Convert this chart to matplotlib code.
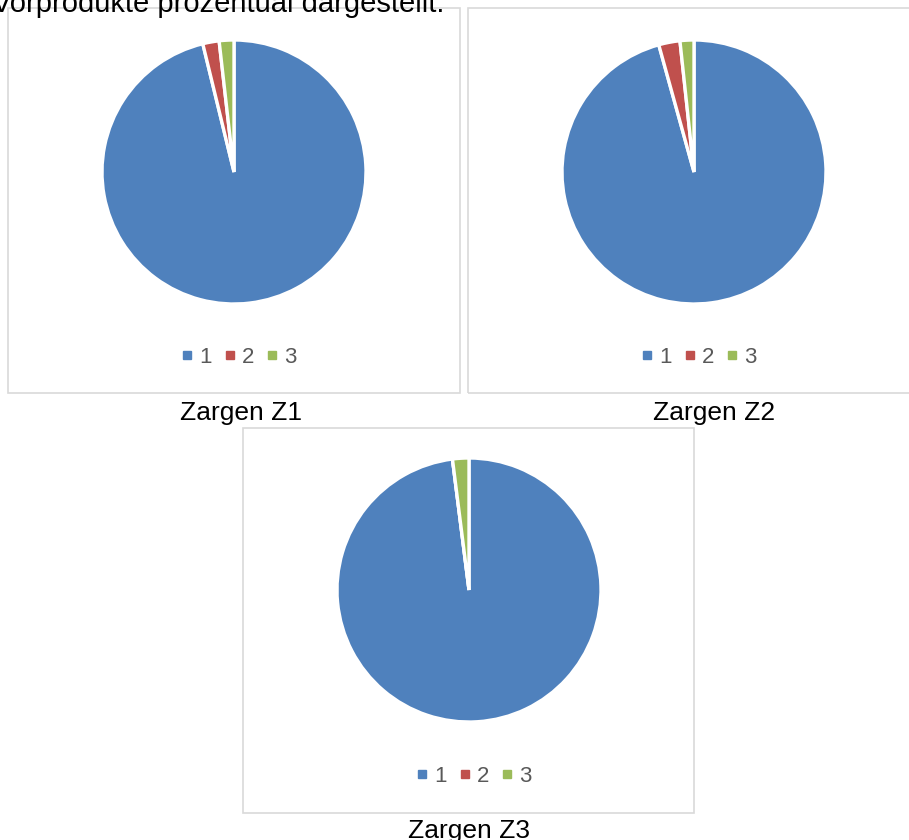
import matplotlib
matplotlib.use("Agg")
import matplotlib.pyplot as plt
from matplotlib.patches import Rectangle
from matplotlib.lines import Line2D

plt.rcParams["font.family"] = ["Liberation Sans", "DejaVu Sans"]

W, H = 909, 840

# share of each part (percent)
categories = ["1", "2", "3"]
z1_values = [96.2, 2.0, 1.8]
z2_values = [95.7, 2.6, 1.7]
z3_values = [98.0, 0.0, 2.0]
titles = ["Zargen Z1", "Zargen Z2", "Zargen Z3"]
heading = "Vorprodukte prozentual dargestellt."

colors = ["#4F81BD", "#C0504D", "#9BBB59"]
r = 132

# panel layout in pixels: box (x0, y0, x1, y1), pie centre, legend y, caption (x, y)
panels = [
    (z1_values, (8, 8, 460, 393), (234, 172), 357, (241, 413)),
    (z2_values, (468, 8, 922, 393), (694, 172), 357, (714, 413)),
    (z3_values, (243, 428, 694, 813), (469, 590), 776, (469, 831)),
]


def fx(x):
    return x / W


def fy(y):
    return 1 - y / H


fig = plt.figure(figsize=(W / 100, H / 100), dpi=100)

fig.text(fx(-8), fy(12), heading, fontsize=21, color="black",
         ha="left", va="baseline")

for (values, box, centre, leg_y, cap), title in zip(panels, titles):
    x0, y0, x1, y1 = box
    fig.patches.append(Rectangle((fx(x0), fy(y1)), fx(x1) - fx(x0), fy(y0) - fy(y1),
                                 transform=fig.transFigure, fill=False,
                                 edgecolor="#d9d9d9", linewidth=1.2))

    cx, cy = centre
    ax = fig.add_axes([fx(cx - r), fy(cy + r), 2 * r / W, 2 * r / H])
    wedges, _ = ax.pie(values, colors=colors, startangle=90, counterclock=False,
                       wedgeprops=dict(edgecolor="white", linewidth=2.4))
    for w in wedges:
        w.set_clip_on(False)
    ax.set_xlim(-1, 1)
    ax.set_ylim(-1, 1)
    ax.axis("off")

    handles = [Line2D([], [], marker="s", linestyle="none", markersize=5.5,
                      markerfacecolor=c, markeredgecolor=c) for c in colors]
    fig.legend(handles, categories, loc="center", ncol=3,
               bbox_to_anchor=(fx(cx + 5), fy(leg_y)),
               frameon=False, fontsize=16, labelcolor="#595959",
               handlelength=0.5, handletextpad=0.3, columnspacing=0.55)

    fig.text(fx(cap[0]), fy(cap[1]), title, fontsize=19, color="black",
             ha="center", va="center")

fig.savefig("out.png", dpi=100)
